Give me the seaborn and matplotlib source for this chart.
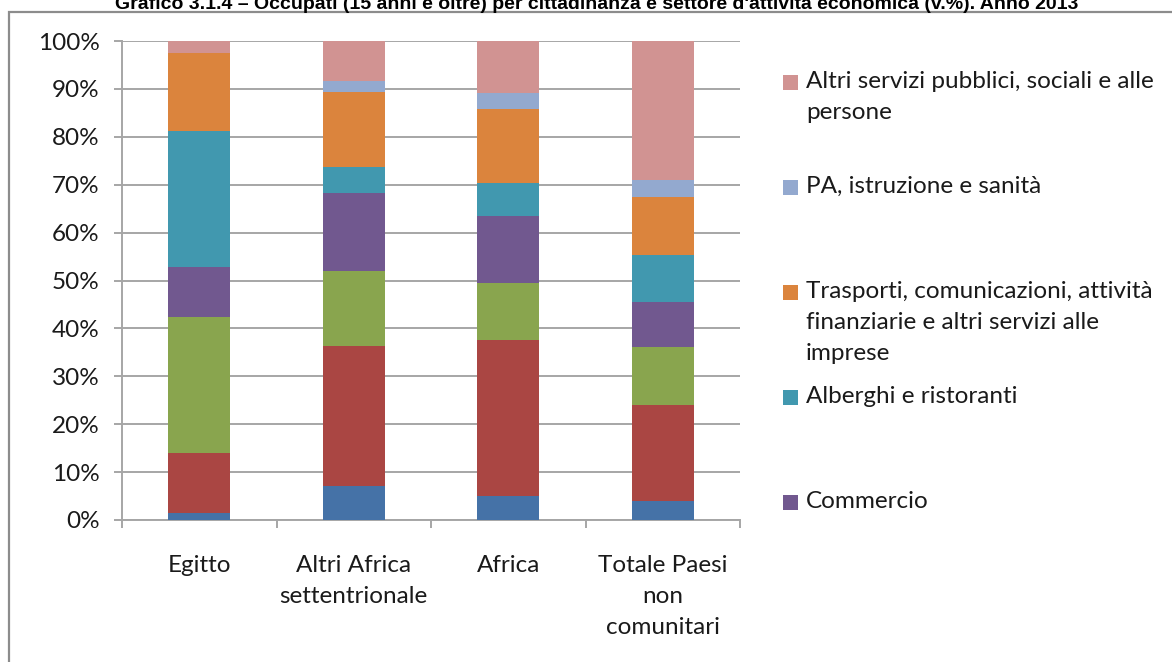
import numpy as np
import pandas as pd
import matplotlib
matplotlib.use("Agg")
import matplotlib.pyplot as plt
from matplotlib.patches import Rectangle
from matplotlib.ticker import PercentFormatter, MultipleLocator, FixedLocator
import seaborn as sns

sns.set_theme(style="white")
plt.rcParams['font.family'] = ['Lato', 'DejaVu Sans']

# data (v.%), bottom to top of each stack
paesi = ["Egitto", "Altri Africa\nsettentrionale", "Africa", "Totale Paesi\nnon\ncomunitari"]
agricoltura = [1.4, 7.2, 5.1, 4.0]
industria = [12.6, 29.2, 32.4, 20.1]
costruzioni = [28.3, 15.5, 11.9, 12.1]
commercio = [10.5, 16.3, 14.1, 9.3]
alberghi = [28.4, 5.4, 6.8, 9.9]
trasporti = [16.3, 15.8, 15.6, 12.1]
pa = [0.0, 2.2, 3.2, 3.4]
altri_servizi = [2.5, 8.4, 10.9, 29.1]

settori = ["Agricoltura", "Industria in senso stretto", "Costruzioni", "Commercio",
           "Alberghi e ristoranti",
           "Trasporti, comunicazioni, attività\nfinanziarie e altri servizi alle\nimprese",
           "PA, istruzione e sanità",
           "Altri servizi pubblici, sociali e alle\npersone"]
serie = [agricoltura, industria, costruzioni, commercio, alberghi, trasporti, pa, altri_servizi]
colori = ["#4572A7", "#AA4643", "#89A54E", "#71588F", "#4198AF", "#DB843D", "#93A9CF", "#D19392"]

titolo = ("Grafico 3.1.4 – Occupati (15 anni e oltre) per cittadinanza e settore "
          "d'attività economica (v.%). Anno 2013")

fig = plt.figure(figsize=(11.72, 6.62), dpi=100)
W, H = 1172, 662
ax = fig.add_axes([122 / W, 1 - 520 / H, 618 / W, 479 / H])

# stacked bars
cum = np.zeros(len(paesi))
for nome, vals, col in zip(settori, serie, colori):
    df = pd.DataFrame({"paese": paesi, "valore": vals})
    sns.barplot(data=df, x="paese", y="valore", color=col, width=0.4,
                bottom=cum, ax=ax, saturation=1, edgecolor="none", zorder=3)
    cum = cum + np.array(vals)

gcol = "#a6a6a6"
fs = 17.5
ax.set_xlim(-0.5, len(paesi) - 0.5)
ax.set_ylim(0, 100)
ax.yaxis.set_major_locator(MultipleLocator(10))
ax.yaxis.set_major_formatter(PercentFormatter(decimals=0))
ax.grid(axis="y", color=gcol, lw=1.4, zorder=0)
ax.set_axisbelow(True)
ax.set_xlabel("")
ax.set_ylabel("")
for s in ["top", "right"]:
    ax.spines[s].set_visible(False)
for s in ["left", "bottom"]:
    ax.spines[s].set_color(gcol)
    ax.spines[s].set_linewidth(1.4)

ax.xaxis.set_minor_locator(FixedLocator(np.arange(-0.5, len(paesi), 1.0)))
ax.tick_params(axis="x", which="major", length=0, pad=25, labelsize=fs, labelcolor="#1a1a1a")
ax.tick_params(axis="x", which="minor", length=6, width=1.4, color=gcol, direction="out", bottom=True)
ax.tick_params(axis="y", which="major", length=6, width=1.4, color=gcol, direction="out",
               left=True, pad=10, labelsize=fs, labelcolor="#1a1a1a")
for lab in ax.get_xticklabels():
    lab.set_linespacing(1.6)

# legend drawn by hand: Excel only fits the top five entries
leg_idx = [7, 6, 5, 4, 3]
y0, step = 82, 105
for k, i in enumerate(leg_idx):
    yc = y0 + k * step
    fig.patches.append(Rectangle((783 / W, 1 - (yc + 7.5) / H), 15 / W, 15 / H,
                                 transform=fig.transFigure, facecolor=colori[i],
                                 edgecolor="none"))
    fig.text(806 / W, 1 - (yc - 11) / H, settori[i], fontsize=fs, va="top", ha="left",
             color="#1a1a1a", linespacing=1.6)

# outer frame (cut off on the right and bottom)
fig.patches.append(Rectangle((9.5 / W, -0.1), 1.2, 1 - 11.5 / H + 0.1,
                             transform=fig.transFigure, facecolor="none",
                             edgecolor="#8c8c8c", lw=1.6))

# title, clipped at the top like the reference
fig.text(597 / W, 1 - 9 / H, titolo, ha="center", va="baseline", fontsize=14,
         fontweight="bold", family=["Liberation Sans", "DejaVu Sans"], color="black")

fig.savefig("out.png", dpi=100, facecolor="white")
